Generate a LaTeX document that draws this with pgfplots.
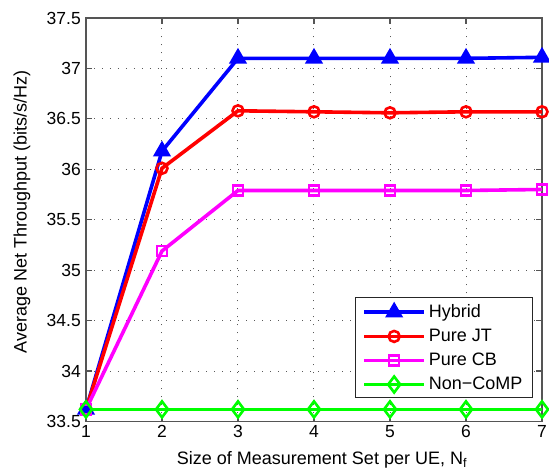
\documentclass[border=0pt]{standalone}
\usepackage{pgfplots}
\pgfplotsset{compat=1.18}
\usepackage{fontspec}
\setmainfont{Liberation Sans}
\definecolor{mblue}{RGB}{0,0,255}
\definecolor{mred}{RGB}{255,0,0}
\definecolor{mmag}{RGB}{255,0,255}
\definecolor{mgreen}{RGB}{0,255,0}
\definecolor{axgray}{RGB}{85,85,85}
\begin{document}
\begin{tikzpicture}
\begin{axis}[
  scale only axis,
  width=456pt, height=403.5pt,
  xmin=1, xmax=7, ymin=33.5, ymax=37.5,
  xtick={1,2,3,4,5,6,7},
  ytick={33.5,34,34.5,35,35.5,36,36.5,37,37.5},
  yticklabels={33.5,34,34.5,35,35.5,36,36.5,37,37.5},
  xticklabels={1,2,3,4,5,6,7},
  tick align=inside,
  major tick length=6pt,
  axis line style={axgray, line width=1.2pt},
  major tick style={axgray, line width=1.2pt},
  grid=major,
  major grid style={black!65, line width=1pt, dash pattern=on 1pt off 7pt},
  tick label style={font=\fontsize{17.5}{20}\selectfont},
  yticklabel style={inner xsep=5pt},
  xticklabel style={inner ysep=4pt},
  label style={font=\fontsize{18}{21}\selectfont},
  xlabel={Size of Measurement Set per UE, N\textsubscript{f}},
  ylabel={Average Net Throughput (bits/s/Hz)},
  xlabel style={at={([xshift=8pt,yshift=-38pt]axis description cs:0.5,0)}, anchor=center},
  ylabel style={at={([xshift=-64pt,yshift=8pt]axis description cs:0,0.5)}, anchor=center},
  legend style={at={(1,0)}, xshift=-9pt, yshift=23pt, anchor=south east, draw=black!85, line width=1pt,
     font=\fontsize{18}{21}\selectfont, row sep=8pt, inner xsep=7pt, inner ysep=5.5pt,
     nodes={inner xsep=3pt, inner ysep=1pt}},
  legend cell align=left,
  legend image code/.code={\draw[mark repeat=2,mark phase=2] plot coordinates {(0pt,0pt)(30pt,0pt)(60pt,0pt)};},
  every axis plot/.append style={line width=3.6pt},
  clip=false,
]
\addplot[mblue, mark=triangle*, mark size=9pt, mark options={solid, line width=1.5pt}] coordinates {(1,33.62)(2,36.18)(3,37.10)(4,37.10)(5,37.10)(6,37.10)(7,37.11)};
\addlegendentry{Hybrid}
\addplot[mred, mark=o, mark size=5.5pt, mark options={line width=2.6pt}] coordinates {(1,33.62)(2,36.01)(3,36.58)(4,36.57)(5,36.56)(6,36.57)(7,36.57)};
\addlegendentry{Pure JT}
\addplot[mmag, mark=square, mark size=5pt, mark options={line width=2.6pt}] coordinates {(1,33.62)(2,35.19)(3,35.79)(4,35.79)(5,35.79)(6,35.79)(7,35.80)};
\addlegendentry{Pure CB}
\addplot[mgreen, mark=diamond, mark size=8pt, mark options={line width=2.6pt}] coordinates {(1,33.62)(2,33.62)(3,33.62)(4,33.62)(5,33.62)(6,33.62)(7,33.62)};
\addlegendentry{Non\textminus CoMP}
\end{axis}
\pgfresetboundingbox
\path (current axis.south west) ++(-86pt,-48pt) coordinate (bbsw);
\path (current axis.north east) ++(7pt,18pt) coordinate (bbne);
\useasboundingbox (bbsw) rectangle (bbne);
\end{tikzpicture}
\end{document}
